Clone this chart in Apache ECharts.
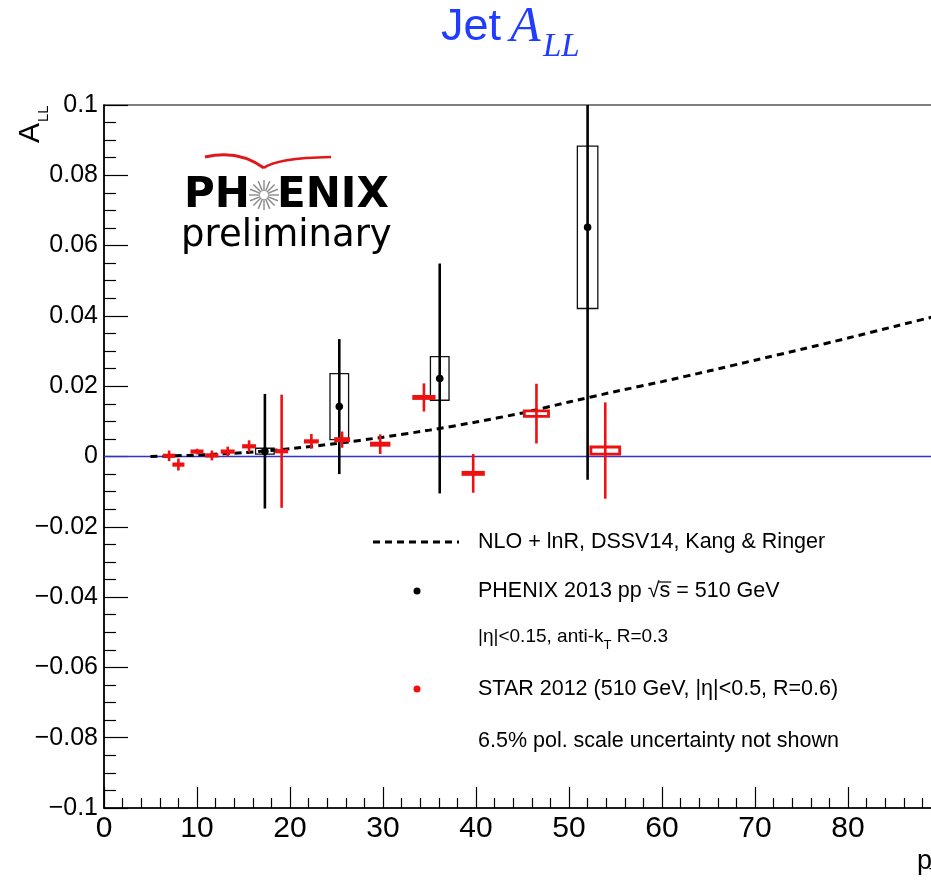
<!DOCTYPE html>
<html><head><meta charset="utf-8">
<script src="https://cdn.jsdelivr.net/npm/echarts@6/dist/echarts.min.js"></script>
<style>html,body{margin:0;padding:0;background:#fff}#c{width:931px;height:883px}</style>
</head><body><div id="c"></div>
<script>
// ---- data ----
const xTickLabels = ['0','10','20','30','40','50','60','70','80'];
const yTickLabels = ['\u22120.1','\u22120.08','\u22120.06','\u22120.04','\u22120.02','0','0.02','0.04','0.06','0.08','0.1'];

const theoryX = [5,10,15,20,25,30,35,40,45,50,55,60,65,70,75,80,85,90,95,100];
const theoryY = [0.0,0.0004,0.0011,0.0022,0.0037,0.0055,0.0075,0.0098,0.0124,0.0155,0.0185,0.0213,0.0243,0.0274,0.0305,0.0337,0.0370,0.0403,0.0437,0.0472];

const phenixX = [17.3, 25.3, 36.1, 52.0];
const phenixY = [0.0015, 0.0142, 0.0222, 0.0652];
const phenixStat = [0.0163, 0.0192, 0.0327, 0.0718];
const phenixSys = [0.00085, 0.0094, 0.0062, 0.0231];
const phenixBinHalf = [1.0, 1.0, 1.0, 1.1];

const starX = [7.0, 8.0, 10.0, 11.6, 13.3, 15.6, 19.1, 22.3, 25.6, 29.7, 34.4, 39.7, 46.5, 53.9];
const starY = [0.0002, -0.0023, 0.0014, 0.0003, 0.0014, 0.0029, 0.0015, 0.0043, 0.0048, 0.0035, 0.0168, -0.0048, 0.0122, 0.0017];
const starStat = [0.0015, 0.0017, 0.0008, 0.0014, 0.0014, 0.0017, 0.0161, 0.0021, 0.0023, 0.0028, 0.0040, 0.0055, 0.0085, 0.0137];
const starSysW = [0.5, 0.5, 0.55, 0.55, 0.6, 0.6, 0.55, 0.65, 0.7, 0.95, 1.1, 1.1, 1.3, 1.55];
const starSys = [0.0002, 0.0002, 0.0002, 0.0002, 0.0002, 0.0002, 0.0002, 0.0002, 0.0003, 0.0003, 0.0003, 0.0003, 0.0008, 0.001];

const zeroLineX = [0, 100];

// ---- helpers ----
const FONT = '"Liberation Sans", Arial, Helvetica, sans-serif';
const mctx = document.createElement('canvas').getContext('2d');
function tw(text, size, family, style) {
  mctx.font = (style || '') + ' ' + size + 'px ' + (family || FONT);
  return mctx.measureText(text).width;
}
const RED = '#ee1111';
const BLUE_T = '#1f3cff';

const chart = echarts.init(document.getElementById('c'), null, {renderer: 'canvas'});

function phenixItem(params, api) {
  const x = api.value(0), y = api.value(1), e = api.value(2), s = api.value(3), w = api.value(4);
  const top = api.coord([x, Math.min(y + e, 0.1)]);
  const bot = api.coord([x, Math.max(y - e, -0.1)]);
  const bl = api.coord([x - w, y - s]);
  const tr = api.coord([x + w, y + s]);
  const c = api.coord([x, y]);
  return {type: 'group', children: [
    {type: 'rect', shape: {x: bl[0], y: tr[1], width: tr[0] - bl[0], height: bl[1] - tr[1]}, style: {fill: 'none', stroke: '#111', lineWidth: 1.3}},
    {type: 'line', shape: {x1: top[0], y1: top[1], x2: bot[0], y2: bot[1]}, style: {stroke: '#000', lineWidth: 2.6}},
    {type: 'circle', shape: {cx: c[0], cy: c[1], r: 3.8}, style: {fill: '#000'}}
  ]};
}
function starItem(params, api) {
  const x = api.value(0), y = api.value(1), e = api.value(2), w = api.value(3), s = api.value(4);
  const top = api.coord([x, y + e]);
  const bot = api.coord([x, y - e]);
  const bl = api.coord([x - w, y - s]);
  const tr = api.coord([x + w, y + s]);
  return {type: 'group', children: [
    {type: 'rect', shape: {x: bl[0], y: tr[1], width: tr[0] - bl[0], height: bl[1] - tr[1]}, style: {fill: '#fff', stroke: RED, lineWidth: 2.8}},
    {type: 'line', shape: {x1: top[0], y1: top[1], x2: bot[0], y2: bot[1]}, style: {stroke: RED, lineWidth: 2.6}}
  ]};
}

// ---- decorations (title, logo, legend) ----
const graphics = [];
// title
graphics.push({type: 'text', x: 441, y: 28, style: {text: 'Jet', fontSize: 45, fontFamily: FONT, fill: BLUE_T, verticalAlign: 'middle', align: 'left'}});
graphics.push({type: 'text', x: 510, y: 28, style: {text: 'A', fontSize: 50, fontFamily: '"Liberation Serif", serif', fontStyle: 'italic', fill: BLUE_T, verticalAlign: 'middle', align: 'left'}});
graphics.push({type: 'text', x: 543, y: 47, style: {text: 'LL', fontSize: 33, fontFamily: '"Liberation Serif", serif', fontStyle: 'italic', fill: BLUE_T, verticalAlign: 'middle', align: 'left'}});
// y-axis title (rotated)
graphics.push({type: 'group', x: 31, y: 143, rotation: Math.PI / 2, children: [
  {type: 'text', x: 0, y: 0, style: {text: 'A', fontSize: 30, fontFamily: FONT, fill: '#000', verticalAlign: 'middle', align: 'left'}},
  {type: 'text', x: 21, y: 13, style: {text: 'LL', fontSize: 15, fontFamily: FONT, fill: '#000', verticalAlign: 'middle', align: 'left'}}
]});
// x-axis title (cut at right edge)
graphics.push({type: 'text', x: 917, y: 862, style: {text: 'p', fontSize: 27, fontFamily: FONT, fill: '#000', verticalAlign: 'middle', align: 'left'}});
graphics.push({type: 'text', x: 929, y: 876, style: {text: 'T', fontSize: 16, fontFamily: FONT, fill: '#000', verticalAlign: 'middle', align: 'left'}});

// PHENIX logo
graphics.push({type: 'bezierCurve', shape: {x1: 205, y1: 157, cpx1: 238, cpy1: 149, x2: 264, y2: 168}, style: {stroke: '#e01818', lineWidth: 3, fill: 'none'}});
graphics.push({type: 'bezierCurve', shape: {x1: 264, y1: 168, cpx1: 276, cpy1: 158, x2: 331, y2: 157}, style: {stroke: '#e01818', lineWidth: 2.5, fill: 'none'}});
graphics.push({type: 'text', x: 184, y: 196, style: {text: 'PH', fontSize: 42, fontWeight: 'bold', fontFamily: '"DejaVu Sans", sans-serif', fill: '#000', verticalAlign: 'middle', align: 'left'}});
graphics.push({type: 'text', x: 277, y: 196, style: {text: 'ENIX', fontSize: 42, fontWeight: 'bold', fontFamily: '"DejaVu Sans", sans-serif', fill: '#000', verticalAlign: 'middle', align: 'left'}});
for (let k = 0; k < 16; k++) {
  const a = k * Math.PI / 8;
  graphics.push({type: 'line', shape: {x1: 264 + 4 * Math.cos(a), y1: 195 + 4 * Math.sin(a), x2: 264 + 15 * Math.cos(a), y2: 195 + 15 * Math.sin(a)}, style: {stroke: '#8a8a8a', lineWidth: 1.4}});
}
graphics.push({type: 'text', x: 181, y: 236, style: {text: 'preliminary', fontSize: 37, fontFamily: '"DejaVu Sans", sans-serif', fill: '#000', verticalAlign: 'middle', align: 'left'}});

// legend
const LX = 478, LF = 21.5;
graphics.push({type: 'line', shape: {x1: 373, y1: 542, x2: 459, y2: 542}, style: {stroke: '#000', lineWidth: 3, lineDash: [7, 5]}});
graphics.push({type: 'text', x: LX, y: 542, style: {text: 'NLO + lnR, DSSV14, Kang & Ringer', fontSize: LF, fontFamily: FONT, fill: '#000', verticalAlign: 'middle'}});
graphics.push({type: 'circle', shape: {cx: 417, cy: 591, r: 3.5}, style: {fill: '#000'}});
graphics.push({type: 'text', x: LX, y: 591, style: {text: 'PHENIX 2013 pp \u221As = 510 GeV', fontSize: LF, fontFamily: FONT, fill: '#000', verticalAlign: 'middle'}});
(function () {
  const x0 = LX + tw('PHENIX 2013 pp \u221A', LF);
  const x1 = x0 + tw('s', LF);
  graphics.push({type: 'line', shape: {x1: x0 - 1, y1: 582, x2: x1 + 1, y2: 582}, style: {stroke: '#000', lineWidth: 1.2}});
})();
(function () {
  const f = 19;
  const t1 = '|\u03B7|<0.15, anti-k';
  const w1 = tw(t1, f);
  graphics.push({type: 'text', x: LX, y: 637, style: {text: t1, fontSize: f, fontFamily: FONT, fill: '#000', verticalAlign: 'middle'}});
  graphics.push({type: 'text', x: LX + w1, y: 645, style: {text: 'T', fontSize: 13, fontFamily: FONT, fill: '#000', verticalAlign: 'middle'}});
  graphics.push({type: 'text', x: LX + w1 + tw('T', 13), y: 637, style: {text: ' R=0.3', fontSize: f, fontFamily: FONT, fill: '#000', verticalAlign: 'middle'}});
})();
graphics.push({type: 'circle', shape: {cx: 417, cy: 689, r: 3.5}, style: {fill: RED}});
graphics.push({type: 'text', x: LX, y: 689, style: {text: 'STAR 2012 (510 GeV, |\u03B7|<0.5, R=0.6)', fontSize: LF, fontFamily: FONT, fill: '#000', verticalAlign: 'middle'}});
graphics.push({type: 'text', x: LX, y: 741, style: {text: '6.5% pol. scale uncertainty not shown', fontSize: LF, fontFamily: FONT, fill: '#000', verticalAlign: 'middle'}});

const option = {
  animation: false,
  backgroundColor: '#fff',
  grid: {left: 104, top: 105, width: 930, height: 703, show: true, borderColor: '#000', borderWidth: 1.2, backgroundColor: 'transparent', containLabel: false, outerBoundsMode: 'none'},
  xAxis: {
    type: 'value', min: 0, max: 100, interval: 10,
    axisLine: {show: true, onZero: false, lineStyle: {color: '#000', width: 1.6}},
    axisTick: {show: true, inside: true, length: 21, lineStyle: {color: '#000', width: 1.2}},
    minorTick: {show: true, splitNumber: 5, length: 10, lineStyle: {color: '#000', width: 1.2}},
    splitLine: {show: false}, minorSplitLine: {show: false},
    axisLabel: {color: '#000', fontSize: 30, fontFamily: '"Liberation Sans Narrow", ' + FONT, margin: 6,
      formatter: function (v) { return xTickLabels[Math.round(v / 10)] || ''; }}
  },
  yAxis: {
    type: 'value', min: -0.1, max: 0.1, interval: 0.02,
    axisLine: {show: true, onZero: false, lineStyle: {color: '#000', width: 1.6}},
    axisTick: {show: true, inside: true, length: 24, lineStyle: {color: '#000', width: 1.2}},
    minorTick: {show: true, splitNumber: 4, length: 12, lineStyle: {color: '#000', width: 1.2}},
    splitLine: {show: false}, minorSplitLine: {show: false},
    axisLabel: {color: '#000', fontSize: 25, fontFamily: FONT, margin: 6,
      formatter: function (v) { return yTickLabels[Math.round((v + 0.1) / 0.02)]; }}
  },
  series: [
    {type: 'line', data: zeroLineX.map(x => [x, 0]), showSymbol: false, silent: true, z: 1,
      lineStyle: {color: '#3232c8', width: 1.3}},
    {type: 'line', data: theoryX.map((x, i) => [x, theoryY[i]]), showSymbol: false, smooth: 0.2, silent: true, z: 3,
      lineStyle: {color: '#000', width: 3, type: [7, 5]}},
    {type: 'custom', z: 4, clip: true, renderItem: phenixItem,
      data: phenixX.map((x, i) => [x, phenixY[i], phenixStat[i], phenixSys[i], phenixBinHalf[i]])},
    {type: 'custom', z: 5, clip: true, renderItem: starItem,
      data: starX.map((x, i) => [x, starY[i], starStat[i], starSysW[i], starSys[i]])}
  ],
  graphic: graphics
};
chart.setOption(option);
</script>
</body></html>
